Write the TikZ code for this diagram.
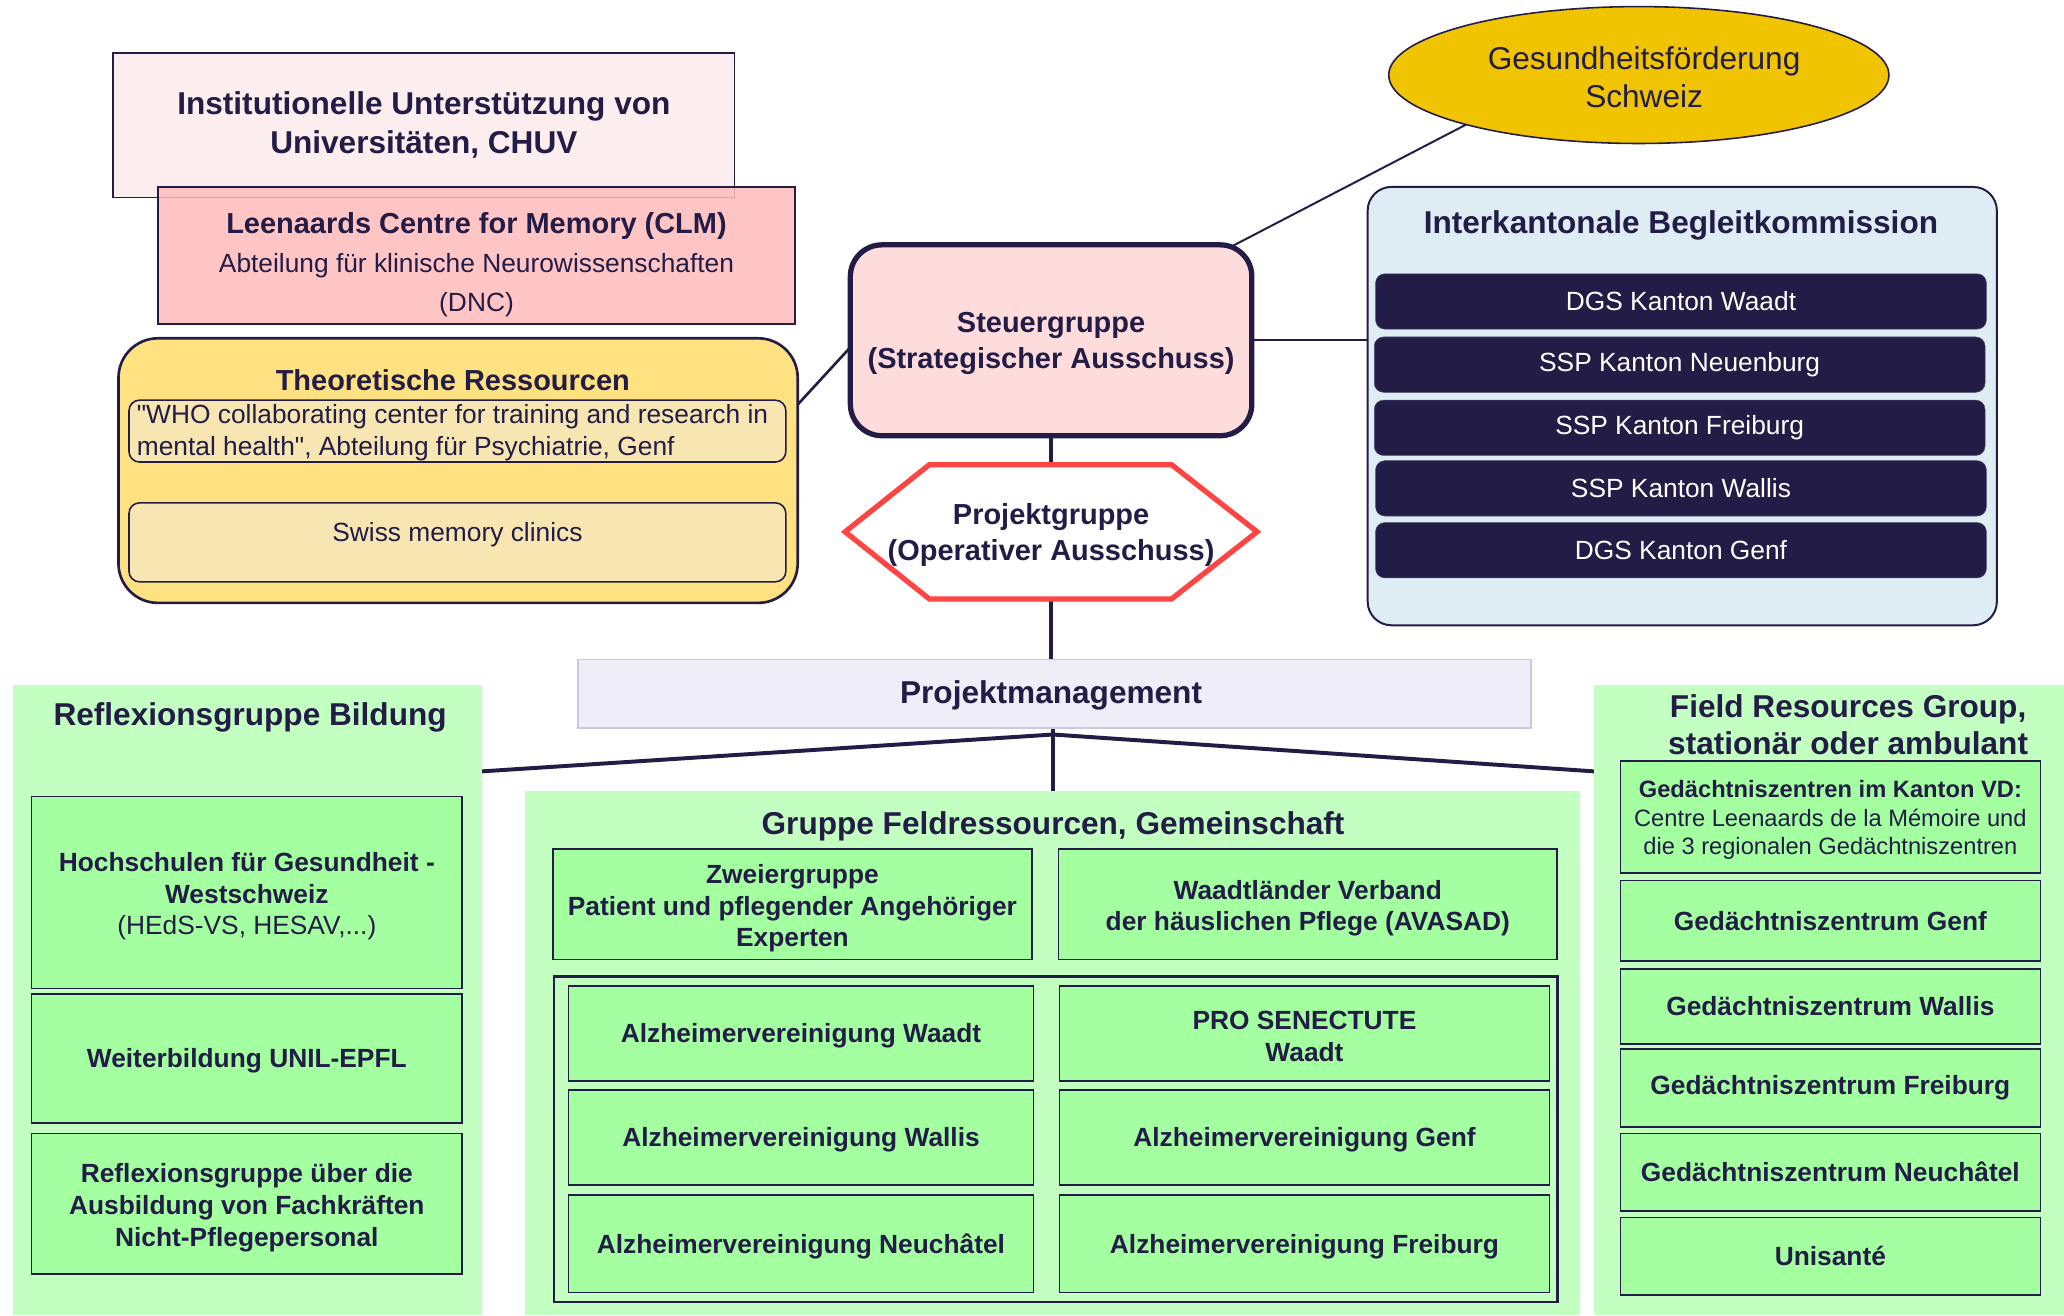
\documentclass[tikz,border=0pt]{standalone}
\usepackage{fontspec}
\setmainfont{Liberation Sans}[Ligatures=TeXOff]
\usetikzlibrary{shapes.geometric,backgrounds}
\definecolor{navy}{HTML}{221C46}
\definecolor{instpink}{HTML}{FCEEEE}
\definecolor{salmon}{HTML}{FFBBBB}
\definecolor{theoyel}{HTML}{FEE281}
\definecolor{paleyel}{HTML}{F8E6B2}
\definecolor{steupink}{HTML}{FEDCDC}
\definecolor{hexred}{HTML}{FF4444}
\definecolor{pmlav}{HTML}{EFEEF8}
\definecolor{pmedge}{HTML}{C9C8DE}
\definecolor{goldfill}{HTML}{F0C400}
\definecolor{iceblue}{HTML}{DEECF4}
\definecolor{panelgreen}{HTML}{C2FFC0}
\definecolor{boxgreen}{HTML}{A4FFA0}
\newcommand{\myfs}[2]{\fontsize{#1}{#2}\selectfont}
\begin{document}
\begin{tikzpicture}[x=1pt,y=-1pt,
  every node/.style={text=navy, inner sep=0pt, outer sep=0pt},
  ttl/.style={font=\myfs{24}{28}\bfseries, align=center},
  gbox/.style={draw=navy, line width=1.2pt, fill=boxgreen, align=center, font=\myfs{20}{24}\bfseries},
  dbox/.style={fill=navy, draw=navy!80, rounded corners=7pt, text=white, font=\myfs{20}{24}, minimum width=464pt, minimum height=42pt},
  panel/.style={fill=panelgreen},
  conn/.style={draw=navy, line width=2.5pt},
]
\begin{scope}[on background layer]
\fill[white] (0,0) rectangle (1568,999);
\end{scope}
\useasboundingbox (0,0) rectangle (1568,999);

% top-left institutional boxes
\node[draw=navy, line width=1.3pt, fill=instpink, minimum width=472pt, minimum height=110pt,
      font=\myfs{24}{29}\bfseries, align=center] (inst) at (322,95)
  {Institutionelle Unterstützung von\\Universitäten, CHUV};
\node[draw=navy, line width=1.3pt, fill=salmon, fill opacity=0.85, minimum width=484pt, minimum height=104pt] (clm) at (362,194) {};
\node[align=center, font=\myfs{20}{29.5}] (clmt) at (362,201)
  {{\bfseries\myfs{22}{29.5}Leenaards Centre for Memory (CLM)}\\Abteilung für klinische Neurowissenschaften\\(DNC)};

% Theoretische Ressourcen
\node[draw=navy, line width=2pt, fill=theoyel, rounded corners=30pt, minimum width=516pt, minimum height=201pt] (tr) at (348,357.5) {};
\node[font=\myfs{22}{26}\bfseries] (trt) at (344,289) {Theoretische Ressourcen};
\node[draw=navy, line width=1.2pt, fill=paleyel, rounded corners=8pt, minimum width=499pt, minimum height=47pt] (who) at (347.5,327.5) {};
\node[align=left, font=\myfs{20}{24}, anchor=west] (whot) at (104,328.5)
  {"WHO collaborating center for training and research in\\mental health", Abteilung für Psychiatrie, Genf};
\node[draw=navy, line width=1.2pt, fill=paleyel, rounded corners=8pt, minimum width=499pt, minimum height=60pt] (swiss) at (347.5,412) {};
\node[font=\myfs{20}{24}] (swisst) at (347.5,406) {Swiss memory clinics};

% Steuergruppe
\node[draw=navy, line width=4pt, fill=steupink, rounded corners=24pt, minimum width=305pt, minimum height=145pt] (sg) at (798.5,258.5) {};
\node[font=\myfs{22}{27}\bfseries, align=center] (sgt) at (798.5,261) {Steuergruppe\\(Strategischer Ausschuss)};

% Projektgruppe (hexagon drawn on background)
\node[minimum width=313pt, minimum height=102pt] (pg) at (798.5,404) {};
\node[font=\myfs{22}{27}\bfseries, align=center] (pgt) at (798.5,406.5) {Projektgruppe\\(Operativer Ausschuss)};

% Projektmanagement
\node[draw=pmedge, line width=1.2pt, fill=pmlav, minimum width=724pt, minimum height=52pt] (pm) at (801,527) {};
\node[font=\myfs{24}{28}\bfseries] (pmt) at (798.5,528) {Projektmanagement};

% Gesundheitsfoerderung
\node[ellipse, draw=navy, line width=1.2pt, fill=goldfill, minimum width=380pt, minimum height=104pt] (gf) at (1245,57) {};
\node[font=\myfs{24}{29}, align=center] (gft) at (1249,58.5) {Gesundheitsförderung\\Schweiz};

% Interkantonale Begleitkommission
\node[draw=navy, line width=1.5pt, fill=iceblue, rounded corners=18pt, minimum width=478pt, minimum height=333pt] (ik) at (1278,308.5) {};
\node[font=\myfs{24}{28}\bfseries] (ikt) at (1277,171.5) {Interkantonale Begleitkommission};
\node[dbox] (d1) at (1277,229) {DGS Kanton Waadt};
\node[dbox] (d2) at (1276,277) {SSP Kanton Neuenburg};
\node[dbox] (d3) at (1276,325) {SSP Kanton Freiburg};
\node[dbox] (d4) at (1277,371) {SSP Kanton Wallis};
\node[dbox] (d5) at (1277,418) {DGS Kanton Genf};

% Reflexionsgruppe Bildung
\node[panel, minimum width=356pt, minimum height=479pt] (rb) at (188,759.5) {};
\node[ttl] (rbt) at (190,545) {Reflexionsgruppe Bildung};
\node[gbox, minimum width=327pt, minimum height=146pt] (h1) at (187.5,678) {};
\node[align=center, font=\myfs{20}{24}\bfseries] (h1t) at (187.5,681)
  {Hochschulen für Gesundheit -\\Westschweiz\\{\mdseries (HEdS-VS, HESAV,...)}};
\node[gbox, minimum width=327pt, minimum height=98pt] (h2) at (187.5,804) {};
\node[font=\myfs{20}{24}\bfseries] (h2t) at (187.5,806) {Weiterbildung UNIL-EPFL};
\node[gbox, minimum width=327pt, minimum height=107pt] (h3) at (187.5,914.5) {};
\node[align=center, font=\myfs{20}{24}\bfseries] (h3t) at (187.5,917.5)
  {Reflexionsgruppe über die\\Ausbildung von Fachkräften\\Nicht-Pflegepersonal};

% Field Resources Group
\node[panel, minimum width=357pt, minimum height=479pt] (fr) at (1389.5,759.5) {};
\node[ttl] (frt) at (1404,550.5) {Field Resources Group,\\stationär oder ambulant};
\node[gbox, minimum width=319pt, minimum height=85pt, font=\myfs{18}{21.5}] (c1) at (1390.5,620.5) {};
\node[align=center, font=\myfs{18}{21.5}] (c1t) at (1390.5,623)
  {{\bfseries Gedächtniszentren im Kanton VD:}\\Centre Leenaards de la Mémoire und\\die 3 regionalen Gedächtniszentren};
\node[gbox, minimum width=319pt, minimum height=61pt] (c2) at (1390.5,699.5) {Gedächtniszentrum Genf};
\node[gbox, minimum width=319pt, minimum height=57pt] (c3) at (1390.5,764.5) {Gedächtniszentrum Wallis};
\node[gbox, minimum width=319pt, minimum height=59pt] (c4) at (1390.5,826.5) {Gedächtniszentrum Freiburg};
\node[gbox, minimum width=319pt, minimum height=59pt] (c5) at (1390.5,890.5) {Gedächtniszentrum Neuchâtel};
\node[gbox, minimum width=319pt, minimum height=59pt] (c6) at (1390.5,954.5) {Unisanté};

% Gruppe Feldressourcen
\node[panel, minimum width=801pt, minimum height=398pt] (fg) at (799.5,800) {};
\node[ttl] (fgt) at (800,628) {Gruppe Feldressourcen, Gemeinschaft};
\node[gbox, minimum width=364pt, minimum height=84pt] (zw) at (602,687) {};
\node[align=center, font=\myfs{20}{24}\bfseries] (zwt) at (602,690) {Zweiergruppe\\Patient und pflegender Angehöriger\\Experten};
\node[gbox, minimum width=379pt, minimum height=84pt] (av) at (993.5,687) {};
\node[align=center, font=\myfs{20}{24}\bfseries] (avt) at (993.5,690) {Waadtländer Verband\\der häuslichen Pflege (AVASAD)};
\node[draw=navy, line width=2pt, minimum width=762pt, minimum height=247pt] (frame) at (802,865.5) {};
\node[gbox, minimum width=353pt, minimum height=72pt] (a1) at (608.5,785) {};
\node[font=\myfs{20}{24}\bfseries] (a1t) at (608.5,787) {Alzheimervereinigung Waadt};
\node[gbox, minimum width=372pt, minimum height=72pt] (a2) at (991,785) {};
\node[align=center, font=\myfs{20}{24}\bfseries] (a2t) at (991,787.5) {PRO SENECTUTE\\Waadt};
\node[gbox, minimum width=353pt, minimum height=72pt] (a3) at (608.5,864) {};
\node[font=\myfs{20}{24}\bfseries] (a3t) at (608.5,866) {Alzheimervereinigung Wallis};
\node[gbox, minimum width=372pt, minimum height=72pt] (a4) at (991,864) {};
\node[font=\myfs{20}{24}\bfseries] (a4t) at (991,866) {Alzheimervereinigung Genf};
\node[gbox, minimum width=353pt, minimum height=74pt] (a5) at (608.5,945) {};
\node[font=\myfs{20}{24}\bfseries] (a5t) at (608.5,947) {Alzheimervereinigung Neuchâtel};
\node[gbox, minimum width=372pt, minimum height=74pt] (a6) at (991,945) {};
\node[font=\myfs{20}{24}\bfseries] (a6t) at (991,947) {Alzheimervereinigung Freiburg};

% connectors
\begin{scope}[on background layer]
\coordinate (j) at (800,558);
\coordinate (jl) at (366,586);
\coordinate (jr) at (1211,586);
\draw[conn] (sg.south) -- (pg.north);
\draw[conn] (pg.south) -- (pg.south |- pm.north);
\draw[conn] (j |- pm.south) -- (j) -- (j |- fg.north);
\draw[navy, line width=3pt] (jl) -- (j) -- (jr);
\draw[navy, line width=2pt] (tr.11.5) -- (sg.182);
\draw[navy, line width=1.5pt] (sg.east) -- (sg.east -| ik.west);
\draw[navy, line width=1.5pt] (gf.196) -- (sg.center);
\draw[hexred, line width=4pt, fill=white, line join=miter]
  (pg.west) -- ([xshift=64pt]pg.north west) -- ([xshift=-65pt]pg.north east) -- (pg.east)
  -- ([xshift=-65pt]pg.south east) -- ([xshift=64pt]pg.south west) -- cycle;
\end{scope}
\end{tikzpicture}
\end{document}
